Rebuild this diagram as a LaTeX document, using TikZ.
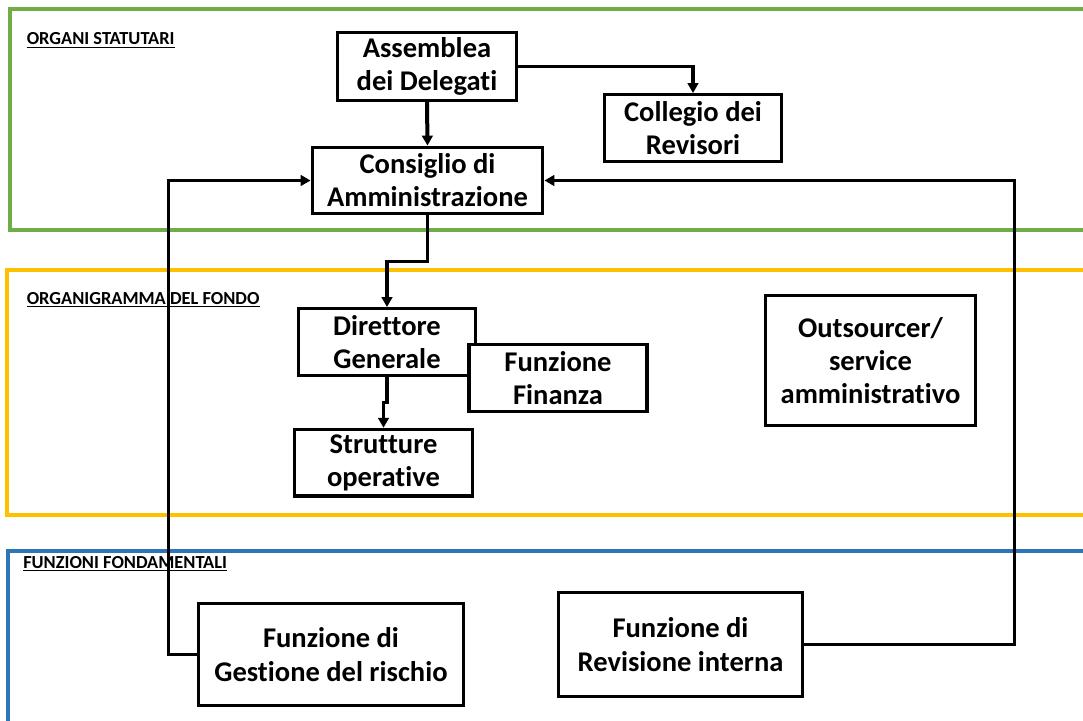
\documentclass[tikz,border=0pt]{standalone}
\usepackage{fontspec}
\setmainfont{Carlito}[Ligatures=NoCommon]
\usetikzlibrary{arrows.meta, positioning, calc}

\definecolor{bandgreen}{HTML}{70AD47}
\definecolor{bandyellow}{HTML}{FFC000}
\definecolor{bandblue}{HTML}{2E75B6}

\begin{document}
\begin{tikzpicture}[
  x=0.75pt, y=-0.75pt,
  font=\fontsize{21.4}{24.75}\selectfont\bfseries,
  >={Triangle[length=7.5pt, width=8pt]},
  box/.style  ={draw, line width=2.4pt, fill=white, align=center, inner sep=2pt},
  band/.style ={line width=3pt},
  tag/.style  ={anchor=base west, inner sep=0pt, font=\fontsize{13.8}{16}\selectfont\bfseries},
  uline/.style={line width=1.1pt},
  arr/.style  ={->, line width=2.4pt},
]
\clip (0,0) rectangle (1083,721);

% --- bands ---
\draw[band, bandgreen]  (10,8.5)  rectangle (1095,229.5);
\draw[band, bandyellow] (7,269.5) rectangle (1095,515);
\draw[band, bandblue]   (7.5,550.5) rectangle (1095,745);

% --- band labels ---
\node[tag] (tstat) at (26.5,45)  {ORGANI STATUTARI};
\node[tag] (tfond) at (26.5,304) {ORGANIGRAMMA DEL FONDO};
\node[tag] (tfunz) at (23,568)   {FUNZIONI FONDAMENTALI};
\foreach \t in {tstat, tfond, tfunz}
  \draw[uline] ([yshift=-2pt]\t.base west) -- ([yshift=-2pt]\t.base east);

% --- organi statutari ---
\node[box, minimum width=134pt, minimum height=51pt] (asse) at (427,66.5) {Assemblea\\dei Delegati};
\node[box, minimum width=133pt, minimum height=50pt] (coll) at (693,128)  {Collegio dei\\Revisori};
\node[box, minimum width=173pt, minimum height=50pt] (cons) at (427.5,180.5) {Consiglio di\\Amministrazione};

% --- organigramma del fondo ---
\node[box, minimum width=133pt, minimum height=50pt] (dir)   at (387,342)   {Direttore\\Generale};
\node[box, minimum width=133.5pt, minimum height=50pt] (fin) at (558,378)   {Funzione\\Finanza};
\node[box, minimum width=133.5pt, minimum height=50pt] (strut) at (383.5,462.7) {Strutture\\operative};
\node[box, minimum width=157.5pt, minimum height=97.5pt] (outs) at (870.5,360.5) {Outsourcer/\\service\\amministrativo};

% --- funzioni fondamentali ---
\node[box, minimum width=199pt, minimum height=76.5pt, font=\fontsize{21.4}{25.5}\selectfont\bfseries] (risc) at (331,654.5) {Funzione di\\Gestione del rischio};
\node[box, minimum width=183pt, minimum height=78pt, font=\fontsize{21.4}{25.5}\selectfont\bfseries] (revi) at (680.5,644.5) {Funzione di\\Revisione interna};

% --- connectors ---
\draw[arr, line width=3pt] (asse.south) -- (cons.north);
\draw[arr] (asse.east) -| (coll.north);
\draw[arr] (cons.south) |- ($(cons.south)!0.5!(dir.north)$) -| (dir.north);
\draw[arr] (dir.south) |- ($(dir.south)!0.5!(strut.north)$) -| (strut.north);
\draw[arr] (risc.west) -- ++(-28,0) |- (cons.west);
\draw[arr] (revi.east) -- ++(210,0) |- (cons.east);

\end{tikzpicture}
\end{document}
